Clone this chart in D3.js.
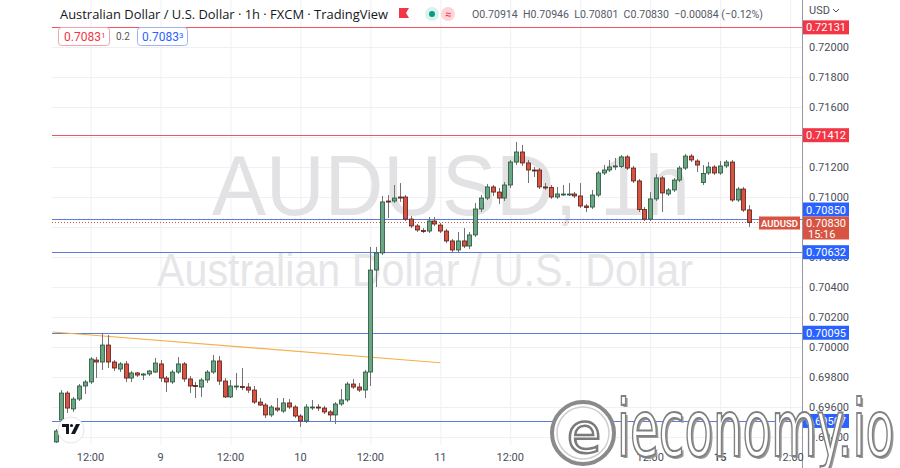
<!DOCTYPE html>
<html><head><meta charset="utf-8">
<script src="https://cdn.jsdelivr.net/npm/d3@7/dist/d3.min.js"></script>
<style>html,body{margin:0;padding:0;background:#fff;}svg{display:block;font-family:Roboto,"Open Sans",sans-serif;}</style>
</head><body>
<svg id="c" width="900" height="468"></svg>
<script>
// ---- DATA (hourly candles, index 0 = day 9 00:00) ----
const startIndex = -18;
const opens = [0.69367,0.69513,0.69693,0.69587,0.69653,0.69740,0.69767,0.69913,0.69900,0.70013,0.69900,0.69853,0.69887,0.69793,0.69827,0.69813,0.69820,0.69833,
0.69887,0.69793,0.69767,0.69833,0.69887,0.69787,0.69743,0.69733,0.69780,0.69833,0.69907,0.69773,0.69667,0.69737,0.69737,0.69733,0.69713,0.69633,0.69613,0.69547,0.69593,0.69573,0.69627,0.69600,0.69540,0.69507,0.69597,0.69600,0.69593,0.69567,0.69547,0.69620,0.69647,0.69753,0.69733,0.69713,
0.69833,0.70513,0.70627,0.70973,0.70973,0.71000,0.71000,0.70853,0.70807,0.70777,0.70773,0.70840,0.70813,0.70773,0.70707,0.70647,0.70707,0.70673,0.70747,0.70920,0.70993,0.71067,0.71033,0.70993,
0.71080,0.71233,0.71300,0.71227,0.71180,0.71180,0.71067,0.71063,0.71000,0.71017,0.71017,0.71020,0.71007,0.70940,0.70933,0.71013,0.71160,0.71180,0.71203,0.71203,0.71267,0.71193,0.71107,0.70917,
0.70853,0.70987,0.71127,0.71020,0.71047,0.71113,0.71193,0.71273,0.71240,0.71097,0.71160,0.71200,0.71160,0.71207,0.71233,0.70980,0.71053,0.70914];
const highs = [0.69453,0.69713,0.69707,0.69667,0.69753,0.69780,0.69933,0.69933,0.70093,0.70080,0.69913,0.69900,0.69907,0.69840,0.69833,0.69827,0.69847,0.69927,
0.69913,0.69807,0.69847,0.69933,0.69900,0.69807,0.69767,0.69793,0.69847,0.69947,0.69940,0.69793,0.69780,0.69827,0.69860,0.69760,0.69740,0.69660,0.69627,0.69613,0.69660,0.69660,0.69653,0.69613,0.69553,0.69620,0.69647,0.69620,0.69607,0.69580,0.69633,0.69720,0.69767,0.69787,0.69760,0.69847,
0.70667,0.70667,0.71007,0.71013,0.71080,0.71093,0.71013,0.70873,0.70820,0.70793,0.70867,0.70867,0.70827,0.70787,0.70720,0.70767,0.70793,0.70767,0.70960,0.71013,0.71087,0.71080,0.71060,0.71100,
0.71247,0.71367,0.71347,0.71247,0.71200,0.71193,0.71093,0.71080,0.71067,0.71080,0.71093,0.71033,0.71093,0.70953,0.71047,0.71173,0.71213,0.71247,0.71260,0.71280,0.71280,0.71207,0.71120,0.70933,
0.71033,0.71153,0.71140,0.71060,0.71127,0.71207,0.71287,0.71287,0.71253,0.71213,0.71233,0.71213,0.71240,0.71247,0.71247,0.71067,0.71067,0.70946];
const lows = [0.69360,0.69507,0.69560,0.69567,0.69640,0.69687,0.69753,0.69793,0.69847,0.69860,0.69840,0.69833,0.69767,0.69767,0.69800,0.69780,0.69807,0.69827,
0.69767,0.69700,0.69753,0.69820,0.69767,0.69693,0.69660,0.69667,0.69760,0.69820,0.69747,0.69660,0.69660,0.69713,0.69713,0.69693,0.69620,0.69607,0.69527,0.69533,0.69567,0.69560,0.69587,0.69527,0.69467,0.69493,0.69580,0.69573,0.69553,0.69500,0.69487,0.69607,0.69633,0.69720,0.69700,0.69660,
0.69740,0.70400,0.70613,0.70860,0.70960,0.70967,0.70840,0.70793,0.70767,0.70760,0.70760,0.70807,0.70760,0.70693,0.70633,0.70633,0.70660,0.70653,0.70733,0.70900,0.70980,0.71007,0.70953,0.70973,
0.71060,0.71213,0.71207,0.71093,0.71133,0.71053,0.71047,0.70987,0.70987,0.71007,0.71007,0.70993,0.70927,0.70900,0.70920,0.71000,0.71147,0.71167,0.71180,0.71193,0.71180,0.71093,0.70900,0.70840,
0.70840,0.70973,0.70900,0.71007,0.71033,0.71100,0.71180,0.71233,0.71167,0.71080,0.71147,0.71147,0.71147,0.71193,0.70967,0.70967,0.70900,0.70801];
const closes = [0.69440,0.69693,0.69593,0.69653,0.69740,0.69767,0.69920,0.69900,0.70013,0.69900,0.69860,0.69887,0.69793,0.69827,0.69813,0.69820,0.69840,0.69893,
0.69793,0.69767,0.69833,0.69887,0.69787,0.69740,0.69737,0.69780,0.69833,0.69907,0.69773,0.69667,0.69740,0.69740,0.69733,0.69713,0.69633,0.69613,0.69547,0.69600,0.69580,0.69627,0.69600,0.69540,0.69507,0.69600,0.69600,0.69593,0.69567,0.69547,0.69620,0.69647,0.69753,0.69733,0.69713,0.69833,
0.70513,0.70627,0.70967,0.70967,0.70993,0.70993,0.70853,0.70807,0.70780,0.70773,0.70840,0.70820,0.70773,0.70707,0.70647,0.70707,0.70673,0.70747,0.70920,0.70993,0.71067,0.71033,0.70993,0.71080,
0.71233,0.71300,0.71227,0.71180,0.71177,0.71067,0.71063,0.71000,0.71020,0.71020,0.71020,0.71007,0.70940,0.70930,0.71013,0.71160,0.71180,0.71200,0.71207,0.71267,0.71193,0.71107,0.70917,0.70853,
0.70987,0.71127,0.71027,0.71047,0.71113,0.71193,0.71273,0.71247,0.71213,0.71157,0.71200,0.71160,0.71207,0.71233,0.70980,0.71053,0.70913,0.70830];

const xTickIndex = [-12,0,12,24,36,48,60,72,84,96,108];
const xTickLabels = ["12:00","9","12:00","10","12:00","11","12:00","12","12:00","15","12:00"];
const yTicks = [0.694,0.696,0.698,0.700,0.702,0.704,0.706,0.708,0.710,0.712,0.714,0.716,0.718,0.720];
const redLevels = [0.72131,0.71412];
const blueLevels = [0.70850,0.70632,0.70095,0.69507];
const trendStart = [-18.5,0.70100], trendEnd = [48,0.69895];
const lastPrice = 0.70830, countdown = "15:16";
const legendTitle = "Australian Dollar / U.S. Dollar · 1h · FXCM · TradingView";
const legendOHLC = "O0.70914  H0.70946  L0.70801  C0.70830  −0.00084 (−0.12%)";

// ---- LAYOUT ----
const svg = d3.select("#c");
const L = 52, R = 802, T = 0, B = 445;
const x = d3.scaleLinear().domain([0,108]).range([160.5,790.1]);
const y = d3.scaleLinear().domain([0.70,0.72]).range([347,47]);
const candles = opens.map((o,k)=>({i:startIndex+k,o,h:highs[k],l:lows[k],c:closes[k]}));

const UP="#6ba583", DN="#d75442", UPB="#225437", DNB="#5b1a13", WICK="#737375";
const RED="#f23645", BLUE="#2962ff";

svg.append("defs").append("clipPath").attr("id","pc").append("rect").attr("x",L).attr("y",T).attr("width",R-L).attr("height",B-T);

// grid
const g = svg.append("g").attr("clip-path","url(#pc)");
g.selectAll(".vg").data(xTickIndex).join("line").attr("x1",d=>x(d)+0.5).attr("x2",d=>x(d)+0.5).attr("y1",0).attr("y2",B).attr("stroke","#eef0f4");
g.selectAll(".hg").data(yTicks).join("line").attr("x1",L).attr("x2",R).attr("y1",d=>Math.round(y(d))+0.5).attr("y2",d=>Math.round(y(d))+0.5).attr("stroke","#eef0f4");

// watermark
g.append("text").attr("x",212).attr("y",215).attr("font-size",86).attr("fill","#e2e2e4").attr("textLength",478).attr("lengthAdjust","spacingAndGlyphs").attr("font-family","'Liberation Sans',Arial,sans-serif").text("AUDUSD, 1h");
g.append("text").attr("x",157).attr("y",286).attr("font-size",46).attr("fill","#e6e6e8").attr("textLength",536).attr("lengthAdjust","spacingAndGlyphs").attr("font-family","'Liberation Sans',Arial,sans-serif").text("Australian Dollar / U.S. Dollar");

// levels
g.selectAll(".rl").data(redLevels).join("line").attr("x1",L).attr("x2",R).attr("y1",d=>Math.round(y(d))+0.5).attr("y2",d=>Math.round(y(d))+0.5).attr("stroke",RED).attr("stroke-opacity",0.85);
g.selectAll(".bl").data(blueLevels).join("line").attr("x1",L).attr("x2",R).attr("y1",d=>Math.round(y(d))+0.5).attr("y2",d=>Math.round(y(d))+0.5).attr("stroke","#4a6fd8").attr("stroke-opacity",0.9);
// trend line
g.append("line").attr("x1",x(trendStart[0])).attr("y1",y(trendStart[1])).attr("x2",x(trendEnd[0])).attr("y2",y(trendEnd[1])).attr("stroke","#f5b04a").attr("stroke-width",1.2);
// current price dotted
g.append("line").attr("x1",L).attr("x2",R).attr("y1",Math.round(y(lastPrice))+0.5).attr("y2",Math.round(y(lastPrice))+0.5).attr("stroke",DN).attr("stroke-dasharray","1,2");

// candles
const cg = g.append("g");
cg.selectAll(".w").data(candles).join("line").attr("x1",d=>Math.round(x(d.i))+0.5).attr("x2",d=>Math.round(x(d.i))+0.5).attr("y1",d=>y(d.h)).attr("y2",d=>y(d.l)).attr("stroke",WICK);
cg.selectAll(".b").data(candles).join("rect")
  .attr("x",d=>Math.round(x(d.i))-1.5).attr("width",4)
  .attr("y",d=>Math.min(y(d.o),y(d.c))).attr("height",d=>Math.max(1,Math.abs(y(d.o)-y(d.c))))
  .attr("fill",d=>d.c>=d.o?UP:DN).attr("stroke",d=>d.c>=d.o?UPB:DNB).attr("stroke-width",0.8);

// right axis
svg.append("line").attr("x1",R+0.5).attr("x2",R+0.5).attr("y1",0).attr("y2",468).attr("stroke","#9598a1");
svg.selectAll(".yt").data(yTicks).join("text").attr("x",809).attr("y",d=>y(d)+4).attr("font-size",11).attr("fill","#4a4e5a").text(d=>d.toFixed(5));
svg.append("text").attr("x",809).attr("y",14).attr("font-size",11).attr("fill","#4a4e5a").text("USD");
svg.append("path").attr("d","M833,9 l3,3 l3,-3").attr("fill","none").attr("stroke","#4a4e5a").attr("stroke-width",1);

// price boxes
const curTop = Math.round(y(lastPrice))-5.5;
function box(v,color){
  let cy = y(v);
  if (cy+7 > curTop && cy-7 < curTop+23) cy = curTop-7;
  svg.append("rect").attr("x",803).attr("y",cy-7).attr("width",46).attr("height",14).attr("fill",color);
  svg.append("text").attr("x",826).attr("y",cy+4).attr("text-anchor","middle").attr("font-size",11).attr("fill","#fff").text(v.toFixed(5));
}
redLevels.forEach(v=>box(v,RED));
blueLevels.forEach(v=>box(v,BLUE));
svg.append("rect").attr("x",803).attr("y",curTop).attr("width",46).attr("height",23).attr("fill",DN);
svg.append("text").attr("x",826).attr("y",curTop+10).attr("text-anchor","middle").attr("font-size",11).attr("fill","#fff").text(lastPrice.toFixed(5));
svg.append("text").attr("x",808).attr("y",curTop+21).attr("font-size",11).attr("fill","#fff").text(countdown);
svg.append("rect").attr("x",759).attr("y",curTop).attr("width",41).attr("height",13).attr("fill",DN);
svg.append("text").attr("x",779.5).attr("y",curTop+10).attr("text-anchor","middle").attr("font-size",9.5).attr("font-weight",600).attr("fill","#fff").text("AUDUSD");

// x axis
svg.selectAll(".xt").data(xTickIndex).join("text").attr("x",d=>x(d)).attr("y",461).attr("text-anchor","middle").attr("font-size",11)
  .attr("font-weight",(d,k)=>xTickLabels[k]==="15"?600:400).attr("fill","#4a4e5a").text((d,k)=>xTickLabels[k]);

// header legend
svg.append("text").attr("x",60).attr("y",19).attr("font-size",13.5).attr("fill","#131722").attr("font-family","'Open Sans',sans-serif").attr("textLength",328).attr("lengthAdjust","spacingAndGlyphs").text(legendTitle);
svg.append("path").attr("d","M399,8 h10 l-3,5 l3,5 h-10 z").attr("fill",RED);
svg.append("rect").attr("x",425).attr("y",7).attr("width",14).attr("height",14).attr("rx",7).attr("fill","#d9f2ec");
svg.append("circle").attr("cx",432).attr("cy",14).attr("r",3).attr("fill","#089981");
svg.append("rect").attr("x",441).attr("y",7).attr("width",14).attr("height",14).attr("rx",7).attr("fill","#fbd5da");
svg.append("text").attr("x",448).attr("y",18).attr("text-anchor","middle").attr("font-size",11).attr("fill",RED).text("≈");
svg.append("text").attr("x",472).attr("y",18).attr("font-size",11.5).attr("fill","#555a66").attr("textLength",291).attr("lengthAdjust","spacingAndGlyphs").attr("xml:space","preserve").text(legendOHLC);

// buy/sell boxes
svg.append("rect").attr("x",58.5).attr("y",27.5).attr("width",51).attr("height",18).attr("rx",3).attr("fill","#fff").attr("stroke","#f5a3ab");
const t1 = svg.append("text").attr("x",64).attr("y",41).attr("font-size",12).attr("fill",RED);
t1.append("tspan").text("0.7083"); t1.append("tspan").attr("font-size",8).attr("dy",-3).text("1");
svg.append("text").attr("x",116).attr("y",40).attr("font-size",10).attr("fill","#555").text("0.2");
svg.append("rect").attr("x",137.5).attr("y",27.5).attr("width",50).attr("height",18).attr("rx",3).attr("fill","#fff").attr("stroke","#9fb3f0");
const t2 = svg.append("text").attr("x",142).attr("y",41).attr("font-size",12).attr("fill",BLUE);
t2.append("tspan").text("0.7083"); t2.append("tspan").attr("font-size",8).attr("dy",-3).text("3");

// TradingView badge
svg.append("circle").attr("cx",71).attr("cy",430).attr("r",13).attr("fill","#fff").attr("stroke","#e6e6e6");
svg.append("path").attr("d","M62,424 h7 v10 h-3 v-7 h-4 z M76,424 h4 l-5,10 h-4 z").attr("fill","#131722");
svg.append("circle").attr("cx",71.5).attr("cy",425.5).attr("r",1.6).attr("fill","#131722");

// ieconomy.io logo
const lg = svg.append("g");
lg.append("circle").attr("cx",583).attr("cy",433).attr("r",31).attr("fill","#fff").attr("stroke","#8a8a8a").attr("stroke-width",4);
lg.append("circle").attr("cx",583).attr("cy",433).attr("r",26).attr("fill","none").attr("stroke","#cfcfcf").attr("stroke-width",1.5);
lg.append("text").attr("x",584).attr("y",452).attr("text-anchor","middle").attr("font-size",56).attr("font-family","'DejaVu Sans',sans-serif").attr("fill","#fff").attr("stroke","#7a7a7a").attr("stroke-width",2.5).text("e");
lg.append("text").attr("x",619).attr("y",458).attr("font-size",78).attr("font-family","'DejaVu Sans',sans-serif").attr("textLength",277).attr("lengthAdjust","spacingAndGlyphs").attr("fill","#9a9a9a").text("ieconomy.io");
lg.append("text").attr("x",617).attr("y",456).attr("font-size",78).attr("font-family","'DejaVu Sans',sans-serif").attr("textLength",277).attr("lengthAdjust","spacingAndGlyphs").attr("fill","#fff").attr("stroke","#808080").attr("stroke-width",2.2).text("ieconomy.io");
</script>
</body></html>
